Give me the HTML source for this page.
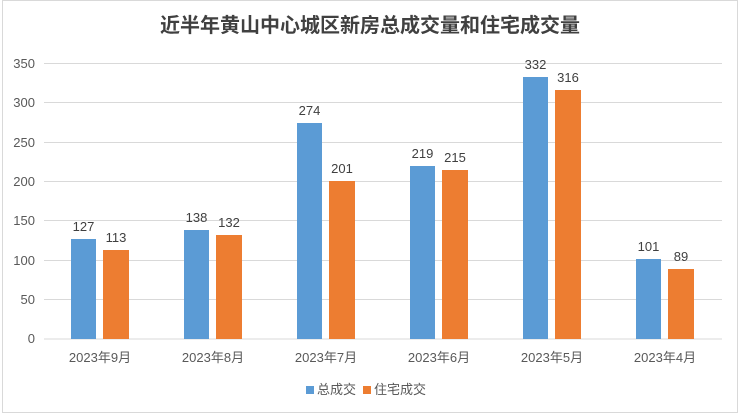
<!DOCTYPE html>
<html><head><meta charset="utf-8"><style>
html,body{margin:0;padding:0;background:#fff;}
svg{display:block;font-family:"Liberation Sans","Noto Sans CJK SC",sans-serif;}
</style></head><body>
<svg width="740" height="415" viewBox="0 0 740 415" xmlns="http://www.w3.org/2000/svg">
<rect x="2.5" y="0.5" width="735" height="412" fill="#fff" stroke="#d9d9d9"/>
<text x="370" y="32" text-anchor="middle" font-size="20" font-weight="bold" fill="#404040" font-family="'Noto Sans CJK SC',sans-serif">近半年黄山中心城区新房总成交量和住宅成交量</text>
<g stroke="#d9d9d9" stroke-width="1">
<line x1="44" x2="722" y1="63.5" y2="63.5"/>
<line x1="44" x2="722" y1="102.5" y2="102.5"/>
<line x1="44" x2="722" y1="142.5" y2="142.5"/>
<line x1="44" x2="722" y1="181.5" y2="181.5"/>
<line x1="44" x2="722" y1="220.5" y2="220.5"/>
<line x1="44" x2="722" y1="260.5" y2="260.5"/>
<line x1="44" x2="722" y1="299.5" y2="299.5"/>
<line x1="44" x2="722" y1="339" y2="339"/>
</g>
<g font-size="13" fill="#595959" text-anchor="end">
<text x="35" y="68">350</text><text x="35" y="107">300</text><text x="35" y="147">250</text>
<text x="35" y="186">200</text><text x="35" y="225">150</text><text x="35" y="265">100</text>
<text x="35" y="304">50</text><text x="35" y="343">0</text>
</g>
<g id="bars"></g>
<g font-size="13" fill="#404040" text-anchor="middle">
<!-- groups: start x = 71 + i*113 -->
<rect x="71" y="239" width="25" height="100" fill="#5B9BD5"/><rect x="103" y="250" width="26" height="89" fill="#ED7D31"/>
<text x="83.5" y="231">127</text><text x="116" y="242">113</text>
<rect x="184" y="230" width="25" height="109" fill="#5B9BD5"/><rect x="216" y="235" width="26" height="104" fill="#ED7D31"/>
<text x="196.5" y="222">138</text><text x="229" y="227">132</text>
<rect x="297" y="123" width="25" height="216" fill="#5B9BD5"/><rect x="329" y="181" width="26" height="158" fill="#ED7D31"/>
<text x="309.5" y="115">274</text><text x="342" y="173">201</text>
<rect x="410" y="166" width="25" height="173" fill="#5B9BD5"/><rect x="442" y="170" width="26" height="169" fill="#ED7D31"/>
<text x="422.5" y="158">219</text><text x="455" y="162">215</text>
<rect x="523" y="77" width="25" height="262" fill="#5B9BD5"/><rect x="555" y="90" width="26" height="249" fill="#ED7D31"/>
<text x="535.5" y="69">332</text><text x="568" y="82">316</text>
<rect x="636" y="259" width="25" height="80" fill="#5B9BD5"/><rect x="668" y="269" width="26" height="70" fill="#ED7D31"/>
<text x="648.5" y="251">101</text><text x="681" y="261">89</text>
</g>
<g font-size="13" fill="#595959" text-anchor="middle">
<text x="100" y="362">2023年9月</text><text x="213" y="362">2023年8月</text>
<text x="326" y="362">2023年7月</text><text x="439" y="362">2023年6月</text>
<text x="552" y="362">2023年5月</text><text x="665" y="362">2023年4月</text>
</g>
<rect x="306" y="386" width="8" height="8" fill="#5B9BD5"/>
<text x="317" y="394" font-size="13" fill="#595959">总成交</text>
<rect x="363" y="386" width="8" height="8" fill="#ED7D31"/>
<text x="374" y="394" font-size="13" fill="#595959">住宅成交</text>
</svg>
</body></html>
